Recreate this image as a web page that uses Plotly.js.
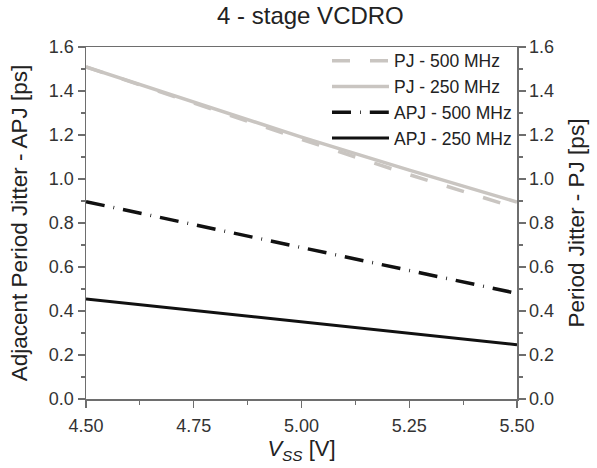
<!DOCTYPE html>
<html>
<head>
<meta charset="utf-8">
<script src="https://cdn.plot.ly/plotly-3.0.1.min.js"></script>
<style>html,body{margin:0;padding:0;background:#fff;}#chart{width:597px;height:468px;}</style>
</head>
<body>
<div id="chart"></div>
<script>
const vss = [4.5, 4.75, 5.0, 5.25, 5.5];
const pj500 = [1.51, 1.345, 1.18, 1.02, 0.868];
const pj250 = [1.51, 1.35, 1.19, 1.04, 0.895];
const apj500 = [0.897, 0.793, 0.688, 0.584, 0.48];
const apj250 = [0.455, 0.403, 0.35, 0.298, 0.247];
const names = ["PJ - 500 MHz", "PJ - 250 MHz", "APJ - 500 MHz", "APJ - 250 MHz"];

const grey = "#c9c5c1";
const blk = "#111111";
const traces = [
  {x: vss, y: pj500, name: names[0], yaxis: "y2", mode: "lines", line: {color: grey, width: 3.5, dash: "18px,20px"}},
  {x: vss, y: pj250, name: names[1], yaxis: "y2", mode: "lines", line: {color: grey, width: 3.5}},
  {x: vss, y: apj500, name: names[2], mode: "lines", line: {color: blk, width: 3.5, dash: "19px,9px,0.8px,9px"}},
  {x: vss, y: apj250, name: names[3], mode: "lines", line: {color: blk, width: 3}}
];

const font = {family: "Liberation Sans, Arial, sans-serif", color: "#222"};
const axcol = "#6e6e6e";
const yax = {
  range: [0, 1.6], dtick: 0.2, tick0: 0, tickformat: ".1f",
  ticks: "outside", ticklen: 7, tickcolor: axcol, tickwidth: 1.3,
  minor: {dtick: 0.1, ticks: "outside", ticklen: 4, tickcolor: axcol, tickwidth: 1.2},
  showline: true, linecolor: axcol, linewidth: 1.5, showgrid: false, zeroline: false,
  tickfont: {size: 18, color: "#333"}
};
const layout = {
  width: 597, height: 468,
  margin: {l: 86, r: 80, t: 47, b: 69},
  paper_bgcolor: "#fff", plot_bgcolor: "#fff",
  font: font,
  showlegend: true,
  title: {text: "4 - stage VCDRO", x: 0.52, xanchor: "center", y: 0.966, yanchor: "middle", font: {size: 24, color: "#222"}},
  xaxis: {
    range: [4.5, 5.5], dtick: 0.25, tick0: 4.5, tickformat: ".2f",
    ticks: "outside", ticklen: 7, tickcolor: axcol, tickwidth: 1.3,
    minor: {dtick: 0.125, ticks: "outside", ticklen: 4, tickcolor: axcol, tickwidth: 1.2},
    showline: true, linecolor: axcol, linewidth: 1.5, mirror: true, showgrid: false, zeroline: false,
    tickfont: {size: 18, color: "#333"}, ticklabelstandoff: 3,
    title: {text: "<i>V</i><sub><i>SS</i></sub> [V]", font: {size: 22, color: "#222"}, standoff: 2}
  },
  yaxis: Object.assign({}, yax, {
    title: {text: "Adjacent Period Jitter - APJ [ps]", font: {size: 22.5, color: "#222"}, standoff: 15}
  }),
  yaxis2: Object.assign({}, yax, {
    overlaying: "y", side: "right",
    title: {text: "Period Jitter - PJ [ps]", font: {size: 22.5, color: "#222"}, standoff: 15}
  }),
  legend: {
    x: 1.0, xanchor: "right", y: 1.012, yanchor: "top",
    bgcolor: "rgba(0,0,0,0)", borderwidth: 0,
    font: {size: 17.5, color: "#222"}, itemwidth: 57, tracegroupgap: 0
  }
};
Plotly.newPlot("chart", traces, layout, {displayModeBar: false, staticPlot: true});
</script>
</body>
</html>
